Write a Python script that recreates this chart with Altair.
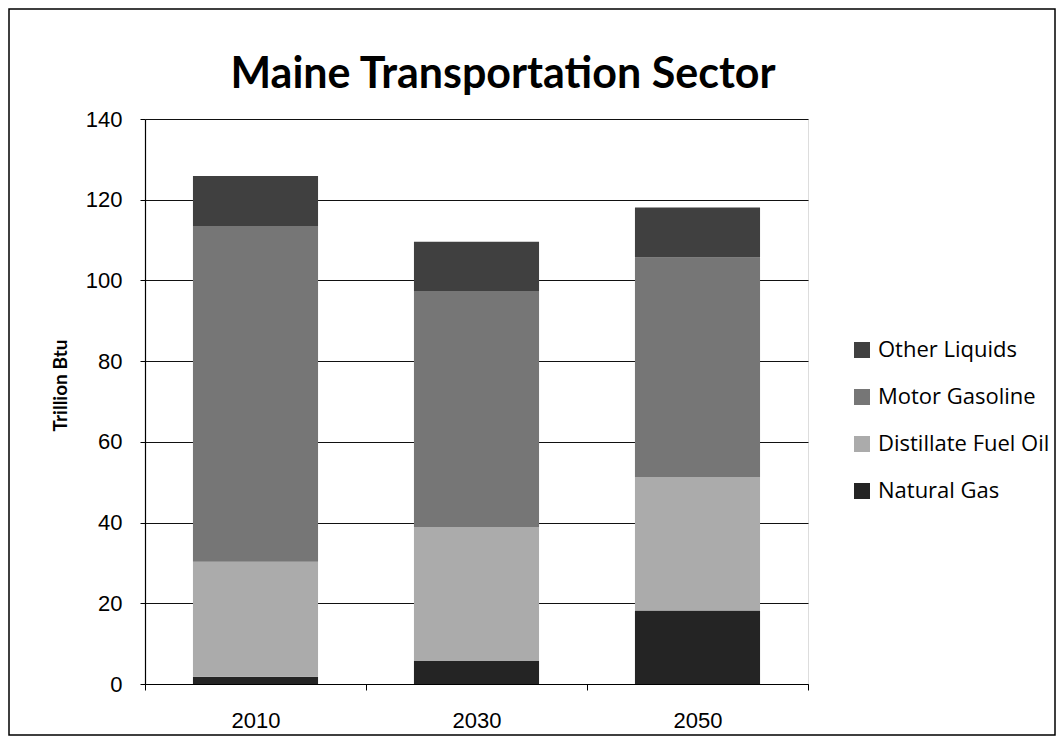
import altair as alt
import pandas as pd

years = ["2010", "2030", "2050"]
series = ["Other Liquids", "Motor Gasoline", "Distillate Fuel Oil", "Natural Gas"]
natural_gas = [1.8, 5.7, 18.2]
distillate = [28.5, 33.2, 33.1]
motor_gasoline = [83.2, 58.5, 54.4]
other_liquids = [12.4, 12.2, 12.4]
y_ticks = [0, 20, 40, 60, 80, 100, 120, 140]

colors = ["#404040", "#767676", "#ababab", "#242424"]
stack_idx = {"Natural Gas": 0, "Distillate Fuel Oil": 1, "Motor Gasoline": 2, "Other Liquids": 3}

rows = []
for name, vals in [("Natural Gas", natural_gas), ("Distillate Fuel Oil", distillate),
                   ("Motor Gasoline", motor_gasoline), ("Other Liquids", other_liquids)]:
    for y, v in zip(years, vals):
        rows.append({"Year": y, "Fuel": name, "Value": v, "idx": stack_idx[name]})
df = pd.DataFrame(rows)

W, H = 663, 565

bars = alt.Chart(df).mark_bar(width=alt.RelativeBandSize(0.566)).encode(
    x=alt.X("Year:N", sort=years, title=None,
            scale=alt.Scale(paddingInner=0, paddingOuter=0),
            axis=alt.Axis(labelAngle=0, labelFont="Liberation Sans", labelFontSize=22,
                          labelColor="#000", labelPadding=20, tickBand="extent",
                          tickColor="#000", tickSize=6, domainColor="#000",
                          domainWidth=1.2)),
    y=alt.Y("Value:Q", stack="zero", title="Trillion Btu",
            scale=alt.Scale(domain=[0, 140], nice=False),
            axis=alt.Axis(values=y_ticks, labelFont="Liberation Sans", labelFontSize=22,
                          labelColor="#000", labelPadding=18, tickSize=5,
                          tickColor="#000", domainColor="#000", domainWidth=1.2,
                          gridColor="#111", gridWidth=1.2, titleFont="Lato",
                          titleFontSize=19, titleFontWeight="bold", titleColor="#000",
                          titleX=-85, titleY=266, titleBaseline="middle",
                          titleAlign="center", titleAngle=270)),
    color=alt.Color("Fuel:N", scale=alt.Scale(domain=series, range=colors),
                    legend=alt.Legend(title=None, orient="none", legendX=706, legendY=220,
                                      symbolType="square", symbolSize=256,
                                      symbolStrokeWidth=0, labelFont="Open Sans",
                                      labelFontSize=22, labelColor="#000", labelLimit=0,
                                      rowPadding=25, labelOffset=5)),
    order=alt.Order("idx:Q", sort="ascending"),
)

title = alt.Chart(pd.DataFrame({"t": ["Maine Transportation Sector"]})).mark_text(
    font="Lato", fontSize=43, fontWeight="bold", color="#000",
    align="center", baseline="alphabetic"
).encode(text="t:N", x=alt.value(358), y=alt.value(-31))

border = alt.Chart(pd.DataFrame({"a": [0]})).mark_rect(
    fill=None, stroke="#000", strokeWidth=1.5
).encode(x=alt.value(-136), x2=alt.value(910), y=alt.value(-110), y2=alt.value(616))

chart = alt.layer(border, bars, title).properties(
    width=W, height=H,
    padding={"left": 137, "top": 111, "right": 248, "bottom": 52},
    autosize=alt.AutoSizeParams(type="none"),
).configure_view(stroke="#000", strokeWidth=1.2).configure(background="#fff")

chart.save("out.html", embed_options={"renderer": "svg", "actions": False})
